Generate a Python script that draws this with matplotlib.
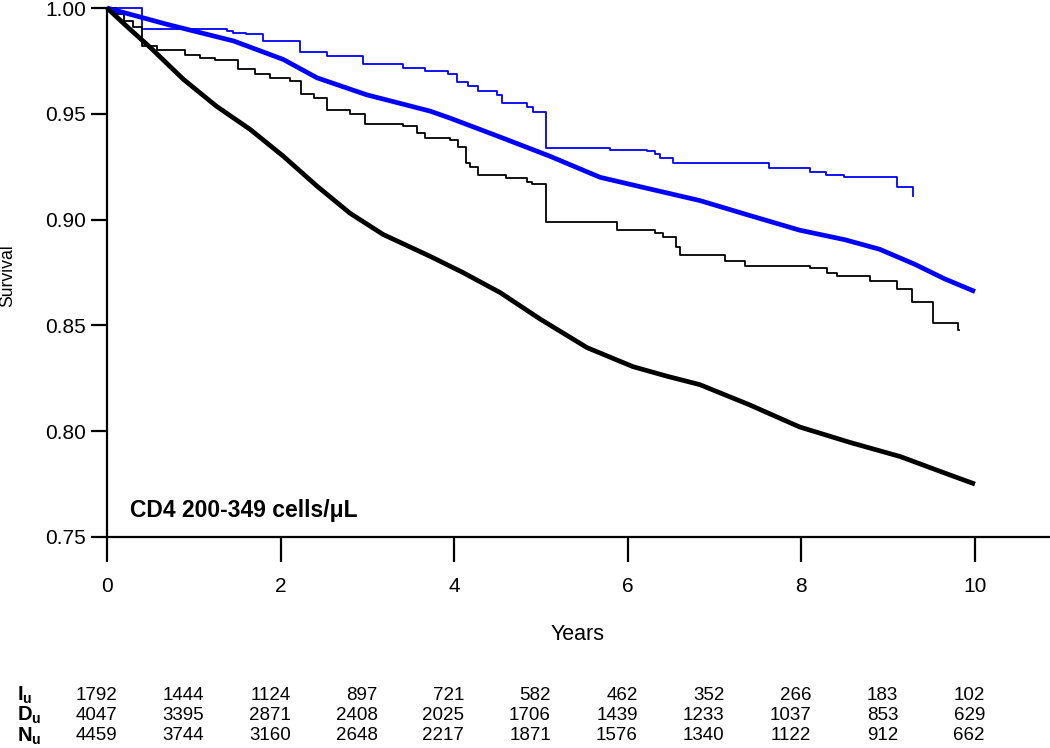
import numpy as np
import matplotlib
matplotlib.use("Agg")
import matplotlib.pyplot as plt

plt.rcParams["font.family"] = ["Liberation Sans", "DejaVu Sans"]
plt.rcParams["mathtext.fontset"] = "custom"
plt.rcParams["mathtext.rm"] = "Liberation Sans"
plt.rcParams["mathtext.bf"] = "Liberation Sans:bold"

# thick smooth curves (years, survival)
black_smooth_t = [0, 0.25, 0.5, 0.88, 1.26, 1.65, 2.03, 2.42, 2.80, 3.18, 3.72, 4.1, 4.53,
                  4.99, 5.53, 6.06, 6.45, 6.83, 7.4, 7.98, 8.56, 9.14, 9.6, 10.0]
black_smooth_s = [1.0, 0.9905, 0.9813, 0.9663, 0.9536, 0.9426, 0.930, 0.9158, 0.903, 0.893,
                  0.8827, 0.875, 0.8655, 0.853, 0.8395, 0.8305, 0.826, 0.822, 0.8125, 0.802,
                  0.7947, 0.788, 0.781, 0.775]

blue_smooth_t = [0, 0.69, 1.46, 2.03, 2.42, 2.99, 3.72, 3.95, 4.53, 5.1, 5.68, 6.2, 6.83,
                 7.4, 7.98, 8.5, 8.9, 9.3, 9.65, 10.0]
blue_smooth_s = [1.0, 0.9923, 0.9844, 0.9757, 0.967, 0.959, 0.9513, 0.948, 0.939, 0.930,
                 0.920, 0.915, 0.909, 0.902, 0.895, 0.8905, 0.886, 0.879, 0.872, 0.866]

# thin step curves (time of step, survival after step)
blue_step_t = [0, 0.40, 1.38, 1.45, 1.6, 1.8, 2.22, 2.53, 2.95, 3.41, 3.66, 3.93, 4.03,
               4.16, 4.27, 4.49, 4.55, 4.84, 4.91, 5.06, 5.80, 6.22, 6.31, 6.37, 6.52, 7.63,
               8.10, 8.28, 8.49, 9.10, 9.28, 9.29]
blue_step_s = [1.0, 0.9903, 0.989, 0.9884, 0.9876, 0.9845, 0.979, 0.9773, 0.9734, 0.9718,
               0.970, 0.969, 0.965, 0.963, 0.961, 0.959, 0.955, 0.953, 0.951, 0.934, 0.933,
               0.9325, 0.931, 0.929, 0.9268, 0.9245, 0.9226, 0.921, 0.920, 0.9155, 0.911, 0.911]

black_step_t = [0, 0.1, 0.2, 0.3, 0.40, 0.58, 0.90, 1.07, 1.24, 1.51, 1.70, 1.88, 2.11,
                2.24, 2.38, 2.53, 2.80, 2.97, 3.41, 3.57, 3.66, 3.95, 4.04, 4.14, 4.18, 4.27,
                4.60, 4.84, 4.90, 5.06, 5.87, 6.31, 6.41, 6.55, 6.60, 7.12, 7.35, 8.10, 8.30,
                8.41, 8.79, 9.10, 9.27, 9.52, 9.80, 9.82]
black_step_s = [1.0, 0.997, 0.994, 0.991, 0.982, 0.980, 0.978, 0.9765, 0.9754, 0.971, 0.969,
                0.967, 0.9655, 0.9592, 0.9576, 0.952, 0.9497, 0.945, 0.9442, 0.941, 0.9387,
                0.9377, 0.9344, 0.9268, 0.925, 0.921, 0.9197, 0.918, 0.917, 0.899, 0.8952,
                0.8938, 0.892, 0.887, 0.8834, 0.8806, 0.878, 0.877, 0.875, 0.8735, 0.871,
                0.8674, 0.861, 0.851, 0.848, 0.848]

# numbers at risk
years = list(range(11))
row_names = ["I", "D", "N"]
at_risk_I = [1792, 1444, 1124, 897, 721, 582, 462, 352, 266, 183, 102]
at_risk_D = [4047, 3395, 2871, 2408, 2025, 1706, 1439, 1233, 1037, 853, 629]
at_risk_N = [4459, 3744, 3160, 2648, 2217, 1871, 1576, 1340, 1122, 912, 662]

W, H = 1050, 748
fig = plt.figure(figsize=(W / 100, H / 100), dpi=100)
ax = fig.add_axes([107 / W, 1 - 537 / H, (W - 107) / W, (537 - 8) / H])

blue = "#0000ff"
ax.step(blue_step_t, blue_step_s, where="post", color=blue, lw=1.3, clip_on=False)
ax.step(black_step_t, black_step_s, where="post", color="black", lw=1.3, clip_on=False)
ax.plot(blue_smooth_t, blue_smooth_s, color=blue, lw=3.4, clip_on=False,
        solid_capstyle="butt", solid_joinstyle="round")
ax.plot(black_smooth_t, black_smooth_s, color="black", lw=3.4, clip_on=False,
        solid_capstyle="butt", solid_joinstyle="round")

ax.set_xlim(0, (W - 107) / 86.8)
ax.set_ylim(0.75, 1.0)
ax.set_xticks([0, 2, 4, 6, 8, 10])
ax.set_yticks([0.75, 0.80, 0.85, 0.90, 0.95, 1.00])
ax.set_yticklabels([f"{v:.2f}" for v in ax.get_yticks()])
for s in ["top", "right"]:
    ax.spines[s].set_visible(False)
for s in ["left", "bottom"]:
    ax.spines[s].set_linewidth(1.6)
ax.tick_params(axis="y", direction="out", length=11.5, width=1.6, pad=3.5, labelsize=15)
ax.tick_params(axis="x", direction="out", length=18, width=1.6, pad=11, labelsize=15)

ax.text((130 - 107) / (W - 107), (537 - 510) / 529, "CD4 200-349 cells/\u03bcL",
        transform=ax.transAxes, fontsize=16.5, fontweight="bold", va="center", ha="left")

fig.text(578 / W, 1 - 634 / H, "Years", ha="center", va="center", fontsize=15.5)
fig.text(8 / W, 1 - 276 / H, "Survival", ha="center", va="center", rotation=90, fontsize=12.7)

row_y = [695, 715, 736]
for name, vals, yp in zip(row_names, [at_risk_I, at_risk_D, at_risk_N], row_y):
    fig.text(17 / W, 1 - yp / H, r"$\mathbf{" + name + r"}_\mathbf{u}$", ha="left",
             va="center", fontsize=14.5)
    for yr, v in zip(years, vals):
        xp = 107 + yr * 86.8 + 10
        fig.text(xp / W, 1 - yp / H, str(v), ha="right", va="center", fontsize=13.5)

fig.savefig("out.png", dpi=100)
